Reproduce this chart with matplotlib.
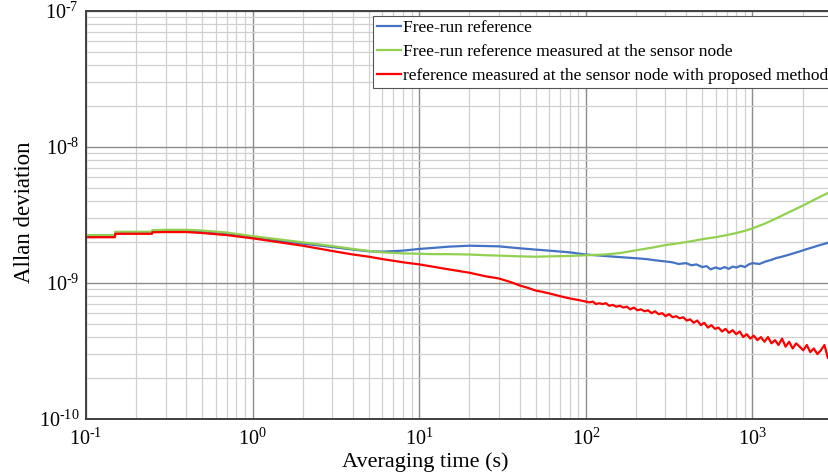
import matplotlib
matplotlib.use("Agg")
import matplotlib.pyplot as plt
from matplotlib.ticker import LogLocator, NullFormatter, FuncFormatter
import math

plt.rcParams['font.family'] = ['Liberation Serif', 'DejaVu Serif']
plt.rcParams['mathtext.fontset'] = 'custom'
plt.rcParams['mathtext.rm'] = 'Liberation Serif'
plt.rcParams['mathtext.default'] = 'regular'

# ---- data (Allan deviation, in units of 1e-9) ----
tau_blue = [0.1, 0.149, 0.15, 0.249, 0.25, 0.3, 0.4, 0.5, 0.7, 1.0, 1.5, 2, 3, 4, 5, 6, 8, 10, 12, 15,
            20, 25, 30, 40, 50, 60, 80, 100, 130, 160, 200, 230, 260, 300, 330, 360, 400, 430, 460, 500,
            530, 560, 600, 640, 680, 720, 760, 800, 850, 900, 950, 1000, 1100, 1200, 1300, 1400, 1500,
            1700, 1900, 2100, 2300, 2500, 2700, 3000]
adev_blue = [2.22, 2.22, 2.35, 2.35, 2.40, 2.41, 2.42, 2.40, 2.32, 2.17, 2.03, 1.95, 1.84, 1.76, 1.71,
             1.70, 1.73, 1.78, 1.81, 1.85, 1.88, 1.87, 1.86, 1.80, 1.76, 1.73, 1.68, 1.62, 1.58, 1.55,
             1.52, 1.50, 1.47, 1.44, 1.42, 1.38, 1.40, 1.35, 1.37, 1.31, 1.33, 1.26, 1.30, 1.27, 1.31,
             1.27, 1.32, 1.30, 1.34, 1.31, 1.37, 1.40, 1.38, 1.44, 1.48, 1.53, 1.56, 1.63, 1.70, 1.77,
             1.83, 1.89, 1.94, 2.02]

tau_green = [0.1, 0.149, 0.15, 0.249, 0.25, 0.3, 0.4, 0.5, 0.7, 1.0, 1.5, 2, 3, 4, 5, 6, 8, 10, 12, 15,
             20, 25, 30, 40, 50, 60, 80, 100, 130, 160, 200, 250, 300, 350, 400, 450, 500, 600, 700,
             800, 900, 1000, 1200, 1400, 1600, 2000, 2400, 3000]
adev_green = [2.25, 2.25, 2.38, 2.38, 2.45, 2.46, 2.46, 2.43, 2.35, 2.21, 2.08, 1.99, 1.87, 1.78, 1.72,
              1.68, 1.65, 1.64, 1.63, 1.63, 1.62, 1.60, 1.59, 1.57, 1.56, 1.57, 1.58, 1.60, 1.62, 1.66,
              1.74, 1.82, 1.90, 1.95, 2.00, 2.05, 2.10, 2.17, 2.25, 2.33, 2.42, 2.52, 2.75, 3.00, 3.25,
              3.70, 4.15, 4.75]

tau_red = [0.1, 0.149, 0.15, 0.249, 0.25, 0.3, 0.4, 0.5, 0.7, 1.0, 1.5, 2, 3, 4, 5, 6, 8, 10, 12, 15,
           20, 25, 30, 35, 40, 45, 50, 55, 60, 70, 80, 90,
           100, 105, 110, 115, 120, 126, 132, 138, 145, 152,
           160, 168, 176, 185, 194, 204, 214, 225, 236, 248,
           260, 273, 287, 301, 316, 332, 348, 366, 384, 403,
           423, 444, 466, 490, 514, 540, 567, 595, 625, 656,
           689, 723, 760, 798, 838, 880, 924, 970, 1018, 1069,
           1123, 1179, 1238, 1300, 1365, 1433, 1505, 1580, 1659, 1742,
           1829, 1920, 2016, 2117, 2223, 2334, 2451, 2573, 2702, 2837,
           2979]
adev_red = [2.17, 2.17, 2.30, 2.30, 2.36, 2.37, 2.37, 2.33, 2.25, 2.13, 1.98, 1.88, 1.72, 1.62, 1.56,
            1.50, 1.42, 1.37, 1.32, 1.26, 1.19, 1.12, 1.08, 1.02, 0.96, 0.92, 0.88, 0.86, 0.84, 0.80,
            0.77, 0.75,
            0.73, 0.72, 0.73, 0.70, 0.71, 0.70, 0.71, 0.68, 0.69, 0.67,
            0.68, 0.66, 0.67, 0.64, 0.66, 0.63, 0.64, 0.62, 0.63, 0.60,
            0.62, 0.59, 0.60, 0.57, 0.59, 0.56, 0.57, 0.55, 0.56, 0.53,
            0.54, 0.51, 0.53, 0.49, 0.51, 0.47, 0.49, 0.46, 0.47, 0.44,
            0.46, 0.43, 0.45, 0.42, 0.44, 0.40, 0.42, 0.39, 0.41, 0.38,
            0.40, 0.37, 0.40, 0.36, 0.38, 0.35, 0.39, 0.34, 0.37, 0.33,
            0.36, 0.34, 0.32, 0.35, 0.31, 0.33, 0.30, 0.32, 0.35, 0.28,
            0.30]

labels = ["Free-run reference",
          "Free-run reference measured at the sensor node",
          "reference measured at the sensor node with proposed method"]
colors = ["#4472C4", "#92D050", "#FF0000"]

fig = plt.figure(figsize=(8.29, 4.75), dpi=100)
W, H = 829, 475
ax = fig.add_axes([86 / W, 1 - 419 / H, 746 / W, 408 / H])

ax.plot(tau_blue, [v * 1e-9 for v in adev_blue], color=colors[0], lw=1.6, label=labels[0])
ax.plot(tau_green, [v * 1e-9 for v in adev_green], color=colors[1], lw=1.6, label=labels[1])
ax.plot(tau_red, [v * 1e-9 for v in adev_red], color=colors[2], lw=1.6, label=labels[2])

ax.set_xscale('log')
ax.set_yscale('log')
ax.set_xlim(0.1, 3000)
ax.set_ylim(1e-10, 1e-7)

ax.xaxis.set_major_locator(LogLocator(base=10, numticks=10))
ax.yaxis.set_major_locator(LogLocator(base=10, numticks=10))
ax.xaxis.set_minor_locator(LogLocator(base=10, subs=range(2, 10), numticks=20))
ax.yaxis.set_minor_locator(LogLocator(base=10, subs=range(2, 10), numticks=20))
ax.xaxis.set_minor_formatter(NullFormatter())
ax.yaxis.set_minor_formatter(NullFormatter())


def pow_fmt(v, pos):
    n = int(round(math.log10(v)))
    if n < 0:
        return r"$10^{\text{-}%d}$" % (-n)
    return r"$10^{%d}$" % n


ax.xaxis.set_major_formatter(FuncFormatter(pow_fmt))
ax.yaxis.set_major_formatter(FuncFormatter(pow_fmt))

ax.grid(True, which='major', color='#8c8c8c', lw=1.0)
ax.grid(True, which='minor', color='#d0d0d0', lw=0.9)
ax.set_axisbelow(True)

ax.tick_params(which='both', length=0)
ax.tick_params(axis='x', labelsize=14.5, pad=7)
ax.tick_params(axis='y', labelsize=14.5, pad=5)

for s in ['left', 'bottom', 'top']:
    ax.spines[s].set_color('#404040')
    ax.spines[s].set_linewidth(1.4)
ax.spines['right'].set_visible(False)

ax.set_xlabel("Averaging time (s)", fontsize=16)
ax.set_ylabel("Allan deviation", fontsize=16.5)
ax.xaxis.set_label_coords(0.455, -0.081)
ax.yaxis.set_label_coords(-0.068, 0.507)

leg = ax.legend(loc='upper left', bbox_to_anchor=(0.385, 0.988), fontsize=12.5,
                frameon=True, fancybox=False, edgecolor='#555555', framealpha=1,
                handlelength=1.4, handletextpad=0.1, borderpad=0.22, labelspacing=0.45,
                borderaxespad=0)
leg.get_frame().set_linewidth(0.8)

fig.savefig("out.png", dpi=100)
